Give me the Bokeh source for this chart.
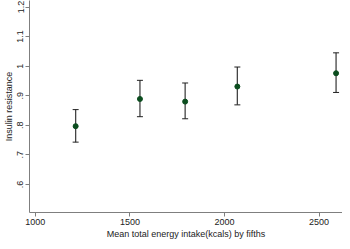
from bokeh.plotting import figure
from bokeh.models import Whisker, ColumnDataSource, FixedTicker, Range1d
from bokeh.embed import file_html
from bokeh.resources import INLINE

# Data
energy = [1213, 1553, 1792, 2068, 2590]
insulin = [0.797, 0.889, 0.880, 0.931, 0.976]
insulin_lower = [0.743, 0.829, 0.822, 0.869, 0.911]
insulin_upper = [0.853, 0.952, 0.943, 0.997, 1.045]

x_ticks = [1000, 1500, 2000, 2500]
y_ticks = [0.6, 0.7, 0.8, 0.9, 1.0, 1.1, 1.2]
y_tick_labels = [".6", ".7", ".8", ".9", "1", "1.1", "1.2"]

src = ColumnDataSource(dict(x=energy, y=insulin, lo=insulin_lower, hi=insulin_upper))

p = figure(width=342, height=241, x_range=Range1d(969, 2624), y_range=Range1d(0.505, 1.222),
           output_backend="svg", toolbar_location=None,
           min_border_left=0, min_border_right=0, min_border_top=0, min_border_bottom=0)
p.outline_line_color = None
p.xgrid.visible = False
p.ygrid.visible = False
p.background_fill_color = "white"
p.border_fill_color = "white"

font = "Liberation Sans"
for ax in (p.xaxis[0], p.yaxis[0]):
    ax.axis_line_color = "#7f7f7f"
    ax.major_tick_line_color = "#7f7f7f"
    ax.minor_tick_line_color = None
    ax.major_tick_out = 4
    ax.major_tick_in = 0
    ax.major_label_text_font = font
    ax.major_label_text_font_size = "9px"
    ax.major_label_text_color = "#222222"
    ax.axis_label_text_font = font
    ax.axis_label_text_font_size = "9px"
    ax.axis_label_text_font_style = "normal"
    ax.axis_label_text_color = "#222222"
    ax.axis_label_standoff = 1
    ax.major_label_standoff = 2

p.xaxis.ticker = FixedTicker(ticks=x_ticks)
p.xaxis.axis_label = "Mean total energy intake(kcals) by fifths"
p.yaxis.ticker = FixedTicker(ticks=y_ticks)
p.yaxis.major_label_overrides = {t: l for t, l in zip(y_ticks, y_tick_labels)}
p.yaxis.major_label_orientation = "vertical"
p.yaxis.axis_label = "Insulin resistance"

w = Whisker(source=src, base="x", lower="lo", upper="hi", dimension="height",
            line_color="#444444", line_width=1.3)
w.upper_head.size = 6
w.lower_head.size = 6
w.upper_head.line_color = "#222222"
w.lower_head.line_color = "#222222"
p.add_layout(w)

p.scatter("x", "y", source=src, size=5, fill_color="#0b4d1e", line_color="#0b4d1e")

open("out.html", "w").write(file_html(p, INLINE))
